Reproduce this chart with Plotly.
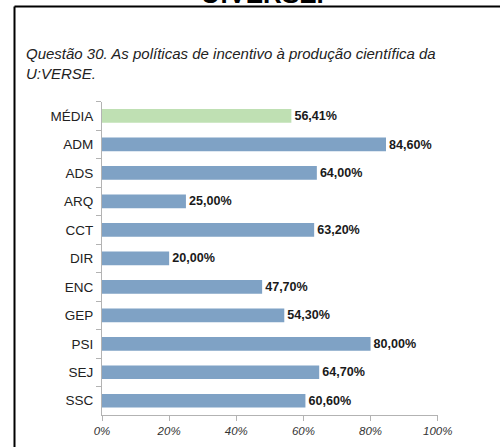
import plotly.graph_objects as go

categories = ["MÉDIA", "ADM", "ADS", "ARQ", "CCT", "DIR", "ENC", "GEP", "PSI", "SEJ", "SSC"]
values = [56.41, 84.60, 64.00, 25.00, 63.20, 20.00, 47.70, 54.30, 80.00, 64.70, 60.60]
x_ticks = [0, 20, 40, 60, 80, 100]
x_tick_labels = ["0%", "20%", "40%", "60%", "80%", "100%"]
title_text = "Questão 30. As políticas de incentivo à produção científica da<br>U:VERSE."
header_text = "U:VERSE."

W, H = 500, 447
labels = [f"{v:.2f}".replace(".", ",") + "%" for v in values]
colors = ["#bfe0b3" if c == "MÉDIA" else "#7fa2c5" for c in categories]

fig = go.Figure()
fig.add_trace(go.Bar(
    y=categories, x=values, orientation="h",
    marker=dict(color=colors, line=dict(width=0)),
    text=labels, textposition="outside",
    textfont=dict(family="Liberation Sans", size=13.8, color="#1a1a1a", weight="bold"),
    cliponaxis=False, width=0.48, hoverinfo="skip",
))

x0, x1 = 102, 437.7
y_top, y_bot = 101.7, 415
fig.update_layout(
    template="none",
    width=W, height=H,
    margin=dict(l=0, r=0, t=0, b=0, pad=0),
    paper_bgcolor="white", plot_bgcolor="white",
    showlegend=False,
    font=dict(family="Liberation Sans", color="#222222"),
    xaxis=dict(
        domain=[x0 / W, x1 / W], range=[0, 100], automargin=False,
        tickvals=x_ticks, ticktext=x_tick_labels,
        showgrid=False, zeroline=False,
        showline=True, linecolor="#b3b3b3", linewidth=1,
        ticks="outside", ticklen=5, tickcolor="#b3b3b3",
        tickfont=dict(family="Liberation Sans", size=11.5, color="#333333", style="italic"),
        fixedrange=True,
    ),
    yaxis=dict(
        domain=[1 - y_bot / H, 1 - y_top / H], automargin=False,
        categoryorder="array", categoryarray=categories, autorange="reversed",
        showgrid=False, zeroline=False,
        showline=True, linecolor="#b3b3b3", linewidth=1,
        ticks="outside", ticklen=5, tickcolor="#b3b3b3", tickson="boundaries",
        ticklabelstandoff=5,
        tickfont=dict(family="Liberation Sans", size=13.5, color="#222222"),
        fixedrange=True,
    ),
)

fig.add_annotation(
    text=title_text, xref="paper", yref="paper",
    x=24 / W, y=1 - 43 / H, xanchor="left", yanchor="top", align="left",
    showarrow=False,
    font=dict(family="Liberation Sans", size=15, color="#222222", style="italic"),
)
fig.add_annotation(
    text=header_text, xref="paper", yref="paper",
    x=262 / W, y=1 + 6 / H, xanchor="center", yanchor="middle",
    showarrow=False,
    font=dict(family="Liberation Sans", size=26, color="#000000", weight="bold"),
)

# frame lines
fig.add_shape(type="line", xref="paper", yref="paper",
              x0=14.5 / W, x1=1, y0=1 - 6.5 / H, y1=1 - 6.5 / H,
              line=dict(color="#000000", width=2))
fig.add_shape(type="line", xref="paper", yref="paper",
              x0=14.5 / W, x1=14.5 / W, y0=1 - 6.5 / H, y1=0,
              line=dict(color="#000000", width=2))

fig.write_html("out.html", config={"displayModeBar": False},
               post_script="document.body.style.margin='0';document.body.style.overflow='hidden';")
